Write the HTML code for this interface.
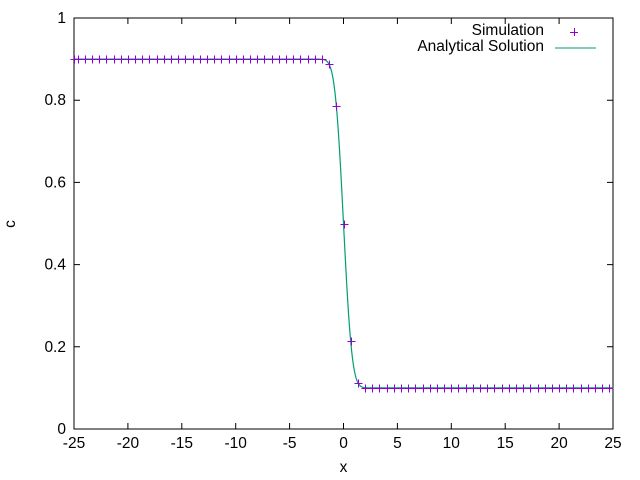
<!DOCTYPE html>
<html><head><style>body{margin:0;background:#fff}svg{display:block}text{font-family:"Liberation Sans",sans-serif;font-size:15.5px;fill:#000}</style></head>
<body>
<svg id="s" width="640" height="480" xmlns="http://www.w3.org/2000/svg">
<rect x="74" y="18" width="539" height="411" fill="none" stroke="#000" stroke-width="1"/>
<g id="ticks" stroke="#000" stroke-width="1"></g>
<g id="labels"></g>
<text x="15" y="224" text-anchor="middle" transform="rotate(-90 15 224)">c</text>
<text x="343.5" y="472" text-anchor="middle">x</text>
<text x="544" y="35" text-anchor="end">Simulation</text>
<text x="544" y="51" text-anchor="end">Analytical Solution</text>
<path d="M570 32.5h8M574.5 28v8" stroke="#9400d3" stroke-width="1"/>
<line x1="555" y1="48" x2="596" y2="48" stroke="#009e73" stroke-width="1"/>
<path id="curve" fill="none" stroke="#009e73" stroke-width="1.2"/>
<path id="pts" fill="none" stroke="#9400d3" stroke-width="1"/>
</svg>
<script>
var L=74,R=613,T=18,B=429,NS="http://www.w3.org/2000/svg";
function X(x){return L+(x+25)/50*(R-L)}function Y(y){return B-y*(B-T)}
function erf(x){var s=x<0?-1:1;x=Math.abs(x);var t=1/(1+0.3275911*x);var y=1-(((((1.061405429*t-1.453152027)*t)+1.421413741)*t-0.284496736)*t+0.254829592)*t*Math.exp(-x*x);return s*y}
function c(x){return 0.5-0.4*erf(x/0.88)}
var tk=document.getElementById('ticks'),lb=document.getElementById('labels'),d="";
for(var v=-25;v<=25;v+=5){var px=X(v);d+="M"+px+" "+B+"v-6M"+px+" "+T+"v6";
var t=document.createElementNS(NS,'text');t.setAttribute('x',px);t.setAttribute('y',B+19);t.setAttribute('text-anchor','middle');t.textContent=v;lb.appendChild(t)}
for(var i=0;i<=5;i++){var v=i*0.2,py=Y(v);d+="M"+L+" "+py+"h6M"+R+" "+py+"h-6";
var t=document.createElementNS(NS,'text');t.setAttribute('x',L-8);t.setAttribute('y',py+5);t.setAttribute('text-anchor','end');t.textContent=(i==0?"0":i==5?"1":v.toFixed(1));lb.appendChild(t)}
var p=document.createElementNS(NS,'path');p.setAttribute('d',d);tk.appendChild(p);
var cd="";for(var x=-25;x<=25.001;x+=0.05){cd+=(cd?"L":"M")+X(x).toFixed(2)+" "+Y(c(x)).toFixed(2)}
document.getElementById('curve').setAttribute('d',cd);
function mk(x){var px=Math.round(X(x))+0.5,py=Math.round(Y(c(x)))+0.5;return "M"+(px-4)+" "+py+"h8M"+px+" "+(py-4)+"v8"}
var pd="";for(var k=-37;k<=37;k++){pd+=mk(k*2/3)}
pd+=mk(-25);
document.getElementById('pts').setAttribute('d',pd);
</script>
</body></html>
